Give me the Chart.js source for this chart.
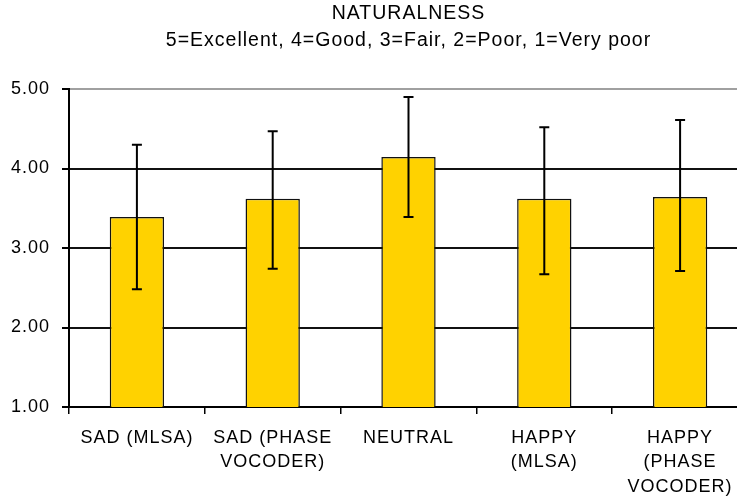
<!DOCTYPE html>
<html>
<head>
<meta charset="utf-8">
<script src="https://cdn.jsdelivr.net/npm/chart.js@4"></script>
<style>
  html, body { margin: 0; padding: 0; background: #fff; overflow: hidden; }
  canvas { display: block; }
</style>
</head>
<body>
<canvas id="chart" width="750" height="500"></canvas>
<script>
const categories = [
  ['SAD (MLSA)'],
  ['SAD (PHASE', 'VOCODER)'],
  ['NEUTRAL'],
  ['HAPPY', '(MLSA)'],
  ['HAPPY', '(PHASE', 'VOCODER)']
];
const means = [3.39, 3.62, 4.145, 3.62, 3.64];
const errUpper = [4.30, 4.47, 4.90, 4.52, 4.61];
const errLower = [2.48, 2.74, 3.39, 2.67, 2.71];
const yTicks = [1, 2, 3, 4, 5];

const FONT = '"Liberation Sans", Arial, sans-serif';

// old spreadsheet text is drawn a little spaced out
const letterSpacing = {
  id: 'letterSpacing',
  beforeDraw(chart) { chart.ctx.letterSpacing = '1px'; },
  afterDraw(chart) { chart.ctx.letterSpacing = '0px'; }
};

const errorBars = {
  id: 'errorBars',
  afterDatasetsDraw(chart) {
    const ctx = chart.ctx;
    const y = chart.scales.y;
    const meta = chart.getDatasetMeta(0);
    ctx.save();
    ctx.strokeStyle = '#000';
    ctx.lineWidth = 2;
    meta.data.forEach((bar, i) => {
      const top = y.getPixelForValue(errUpper[i]);
      const bot = y.getPixelForValue(errLower[i]);
      ctx.beginPath();
      ctx.moveTo(bar.x, top);
      ctx.lineTo(bar.x, bot);
      ctx.moveTo(bar.x - 5, top);
      ctx.lineTo(bar.x + 5, top);
      ctx.moveTo(bar.x - 5, bot);
      ctx.lineTo(bar.x + 5, bot);
      ctx.stroke();
    });
    ctx.restore();
  }
};

new Chart(document.getElementById('chart'), {
  type: 'bar',
  data: {
    labels: categories,
    datasets: [{
      data: means,
      backgroundColor: '#FFD200',
      borderColor: '#111',
      borderWidth: 1.5,
      borderSkipped: false,
      barPercentage: 0.4,
      categoryPercentage: 1
    }]
  },
  options: {
    responsive: false,
    animation: false,
    layout: { padding: { left: 0, right: 2, top: 0, bottom: 0 } },
    plugins: {
      legend: { display: false },
      tooltip: { enabled: false },
      title: {
        display: true,
        text: 'NATURALNESS',
        fullSize: false,
        color: '#000',
        font: { family: FONT, size: 19.5, weight: 'normal' },
        padding: { top: 2, bottom: 1 }
      },
      subtitle: {
        display: true,
        text: '5=Excellent, 4=Good, 3=Fair, 2=Poor, 1=Very poor',
        fullSize: false,
        color: '#000',
        font: { family: FONT, size: 19.5, weight: 'normal' },
        padding: { top: 2.4, bottom: 36.8 }
      }
    },
    scales: {
      x: {
        afterFit(scale) { scale.height = 93; },
        grid: {
          offset: true,
          drawOnChartArea: false,
          drawTicks: true,
          tickLength: 7,
          tickColor: '#000',
          lineWidth: 1.5
        },
        border: { color: '#000', width: 2 },
        ticks: {
          color: '#000',
          font: { family: FONT, size: 18, lineHeight: 1.36 },
          padding: 11.5,
          maxRotation: 0,
          autoSkip: false
        }
      },
      y: {
        min: 1,
        max: 5,
        afterFit(scale) { scale.width = 69; },
        afterBuildTicks(scale) { scale.ticks = yTicks.map(v => ({ value: v })); },
        grid: {
          color: ctx => (ctx.tick && ctx.tick.value === 5 ? '#a0a0a0' : '#111'),
          lineWidth: 2,
          tickLength: 7,
          tickColor: '#000'
        },
        border: { color: '#000', width: 2 },
        ticks: {
          color: '#000',
          font: { family: FONT, size: 18 },
          padding: 12,
          callback: v => v.toFixed(2)
        }
      }
    }
  },
  plugins: [letterSpacing, errorBars]
});
</script>
</body>
</html>
